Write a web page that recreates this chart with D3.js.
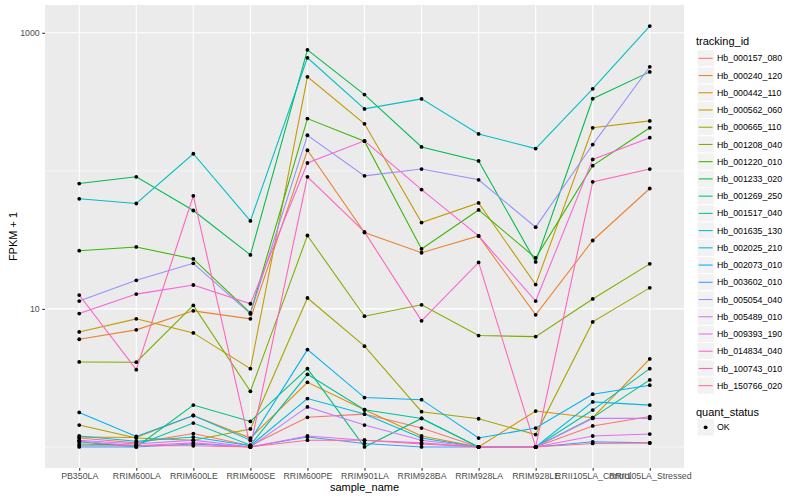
<!DOCTYPE html>
<html>
<head>
<meta charset="utf-8">
<script src="https://cdn.jsdelivr.net/npm/d3@7"></script>
<style>
  body { margin: 0; background: #fff; }
  text { font-family: "Liberation Sans", Arial, sans-serif; }
</style>
</head>
<body>
<div id="chart"></div>
<script>
const samples = ['PB350LA', 'RRIM600LA', 'RRIM600LE', 'RRIM600SE', 'RRIM600PE', 'RRIM901LA',
  'RRIM928BA', 'RRIM928LA', 'RRIM928LE', 'RRII105LA_Control', 'RRII105LA_Stressed'];

const trackingIds = ['Hb_000157_080', 'Hb_000240_120', 'Hb_000442_110', 'Hb_000562_060',
  'Hb_000665_110', 'Hb_001208_040', 'Hb_001220_010', 'Hb_001233_020', 'Hb_001269_250',
  'Hb_001517_040', 'Hb_001635_130', 'Hb_002025_210', 'Hb_002073_010', 'Hb_003602_010',
  'Hb_005054_040', 'Hb_005489_010', 'Hb_009393_190', 'Hb_014834_040', 'Hb_100743_010',
  'Hb_150766_020'];

// FPKM + 1, one row per tracking_id, one value per sample
const fpkm = [
  [1.16, 1.07, 1.25, 1.02, 1.64, 1.73, 1.37, 1.0, 1.0, 1.42, 1.66],
  [6.03, 7.05, 9.68, 8.47, 141, 35.7, 25.5, 33.8, 9.06, 31.3, 74.5],
  [1.18, 1.17, 1.69, 1.16, 2.94, 1.86, 1.20, 1.0, 1.82, 1.63, 4.34],
  [6.81, 8.47, 6.70, 3.69, 480, 219, 42.2, 58.6, 15.0, 205, 230],
  [1.44, 1.16, 1.12, 1.35, 12.0, 5.37, 1.80, 1.60, 1.23, 8.05, 14.2],
  [4.13, 4.11, 10.6, 2.53, 34.0, 8.85, 10.7, 6.41, 6.30, 11.8, 21.2],
  [26.4, 28.1, 23.0, 9.35, 239, 164, 27.2, 52.1, 23.4, 109, 205],
  [80.9, 90.5, 51.6, 24.6, 753, 357, 149, 118, 21.9, 333, 521],
  [1.09, 1.0, 2.01, 1.53, 3.69, 1.0, 1.61, 1.0, 1.0, 1.63, 3.06],
  [1.05, 1.03, 1.49, 1.03, 3.36, 1.86, 1.61, 1.0, 1.0, 1.85, 3.69],
  [62.7, 58.0, 133, 43.4, 659, 281, 332, 185, 145, 393, 1119],
  [1.20, 1.10, 1.18, 1.02, 2.24, 1.73, 1.16, 1.0, 1.0, 2.12, 2.01],
  [1.78, 1.19, 1.69, 1.12, 5.07, 2.28, 2.20, 1.16, 1.37, 2.41, 2.80],
  [1.0, 1.0, 1.05, 1.0, 1.18, 1.06, 1.0, 1.0, 1.0, 1.09, 1.07],
  [11.4, 16.1, 21.4, 9.20, 181, 92.0, 103, 86.1, 39.1, 155, 567],
  [1.12, 1.05, 1.12, 1.0, 1.95, 1.44, 1.12, 1.0, 1.0, 1.61, 1.61],
  [1.10, 1.02, 1.07, 1.0, 1.20, 1.12, 1.07, 1.0, 1.0, 1.20, 1.24],
  [9.25, 12.8, 14.9, 10.9, 114, 165, 73.2, 33.8, 11.4, 121, 174],
  [12.6, 3.63, 65.9, 1.0, 90.5, 36.1, 8.19, 21.7, 1.0, 83.2, 103],
  [1.02, 1.02, 1.02, 1.0, 1.12, 1.12, 1.05, 1.0, 1.0, 1.06, 1.07],
];

const yBreaks = [10, 1000];
const yMinorBreaks = [1, 100];
const quantStatus = ['OK'];

// ggplot2 default hue palette for 20 levels
const palette = ['#F8766D', '#EA8331', '#D89000', '#C09B00', '#A3A500', '#7CAE00', '#39B600',
  '#00BB4E', '#00BF7D', '#00C1A3', '#00BFC4', '#00BAE0', '#00B0F6', '#35A2FF', '#9590FF',
  '#C77CFF', '#E76BF3', '#FA62DB', '#FF62BC', '#FF6C91'];

const width = 800;
const height = 500;
const panel = { left: 45, right: 684, top: 5, bottom: 468 };

const svg = d3.select('#chart')
  .append('svg')
  .attr('width', width)
  .attr('height', height);

const xScale = d3.scalePoint()
  .domain(samples)
  .range([panel.left, panel.right])
  .padding(0.6);

// log10 scale with ggplot's 5% expansion
const [lo, hi] = d3.extent(fpkm.flat(), d => Math.log10(d));
const pad = (hi - lo) * 0.05;
const yScale = d3.scaleLog()
  .domain([10 ** (lo - pad), 10 ** (hi + pad)])
  .range([panel.bottom, panel.top]);

const color = d3.scaleOrdinal().domain(trackingIds).range(palette);

svg.append('rect')
  .attr('x', panel.left)
  .attr('y', panel.top)
  .attr('width', panel.right - panel.left)
  .attr('height', panel.bottom - panel.top)
  .attr('fill', '#EBEBEB');

const grid = svg.append('g').attr('stroke', '#fff');

grid.selectAll('.minor')
  .data(yMinorBreaks)
  .join('line')
  .attr('x1', panel.left)
  .attr('x2', panel.right)
  .attr('y1', d => yScale(d))
  .attr('y2', d => yScale(d))
  .attr('stroke-width', 0.55);

grid.selectAll('.major-y')
  .data(yBreaks)
  .join('line')
  .attr('x1', panel.left)
  .attr('x2', panel.right)
  .attr('y1', d => yScale(d))
  .attr('y2', d => yScale(d))
  .attr('stroke-width', 1.07);

grid.selectAll('.major-x')
  .data(samples)
  .join('line')
  .attr('x1', d => xScale(d))
  .attr('x2', d => xScale(d))
  .attr('y1', panel.top)
  .attr('y2', panel.bottom)
  .attr('stroke-width', 1.07);

const line = d3.line()
  .x((d, i) => xScale(samples[i]))
  .y(d => yScale(d));

svg.append('g')
  .attr('fill', 'none')
  .selectAll('path')
  .data(fpkm)
  .join('path')
  .attr('d', line)
  .attr('stroke', (d, i) => color(trackingIds[i]))
  .attr('stroke-width', 1.07);

const points = fpkm.flatMap(row => row.map((v, i) => ({ sample: samples[i], v })));
svg.append('g')
  .selectAll('circle')
  .data(points)
  .join('circle')
  .attr('cx', d => xScale(d.sample))
  .attr('cy', d => yScale(d.v))
  .attr('r', 1.9)
  .attr('fill', '#000');

const xAxis = svg.append('g')
  .attr('transform', `translate(0, ${panel.bottom})`)
  .call(d3.axisBottom(xScale).tickSize(2.75).tickPadding(2.5));

const yAxis = svg.append('g')
  .attr('transform', `translate(${panel.left}, 0)`)
  .call(d3.axisLeft(yScale).tickValues(yBreaks).tickFormat(d3.format('d')).tickSize(2.75).tickPadding(2.5));

[xAxis, yAxis].forEach(ax => {
  ax.select('.domain').remove();
  ax.selectAll('.tick line').attr('stroke', '#333333').attr('stroke-width', 1.07);
  ax.selectAll('.tick text')
    .attr('fill', '#4D4D4D')
    .style('font-size', '8.8px')
    .style('font-family', '"Liberation Sans", Arial, sans-serif');
});

svg.append('text')
  .attr('x', (panel.left + panel.right) / 2)
  .attr('y', 491)
  .attr('text-anchor', 'middle')
  .style('font-size', '11px')
  .text('sample_name');

svg.append('text')
  .attr('transform', `translate(17, ${(panel.top + panel.bottom) / 2}) rotate(-90)`)
  .attr('text-anchor', 'middle')
  .style('font-size', '11px')
  .text('FPKM + 1');

// legend: tracking_id
const legendX = 696;
const keySize = 17.3;
const firstKey = 58.3;

svg.append('text')
  .attr('x', legendX)
  .attr('y', 44.5)
  .style('font-size', '11px')
  .text('tracking_id');

const keys = svg.append('g')
  .selectAll('g')
  .data(trackingIds)
  .join('g')
  .attr('transform', (d, i) => `translate(${legendX + 1}, ${firstKey + i * 17.23})`);

keys.append('rect')
  .attr('x', 0)
  .attr('y', -keySize / 2)
  .attr('width', keySize)
  .attr('height', keySize)
  .attr('fill', '#F2F2F2')
  .attr('stroke', '#fff');

keys.append('line')
  .attr('x1', 1.7)
  .attr('x2', keySize - 1.7)
  .attr('stroke', d => color(d))
  .attr('stroke-width', 1.07);

keys.append('text')
  .attr('x', keySize + 2.7)
  .attr('y', 3.1)
  .style('font-size', '8.8px')
  .text(d => d);

// legend: quant_status
svg.append('text')
  .attr('x', legendX)
  .attr('y', 415.5)
  .style('font-size', '11px')
  .text('quant_status');

const qKeys = svg.append('g')
  .selectAll('g')
  .data(quantStatus)
  .join('g')
  .attr('transform', (d, i) => `translate(${legendX + 1}, ${427.3 + i * 17.23})`);

qKeys.append('rect')
  .attr('y', -keySize / 2)
  .attr('width', keySize)
  .attr('height', keySize)
  .attr('fill', '#F2F2F2')
  .attr('stroke', '#fff');

qKeys.append('circle')
  .attr('cx', keySize / 2)
  .attr('r', 1.9)
  .attr('fill', '#000');

qKeys.append('text')
  .attr('x', keySize + 2.7)
  .attr('y', 3.1)
  .style('font-size', '8.8px')
  .text(d => d);
</script>
</body>
</html>
